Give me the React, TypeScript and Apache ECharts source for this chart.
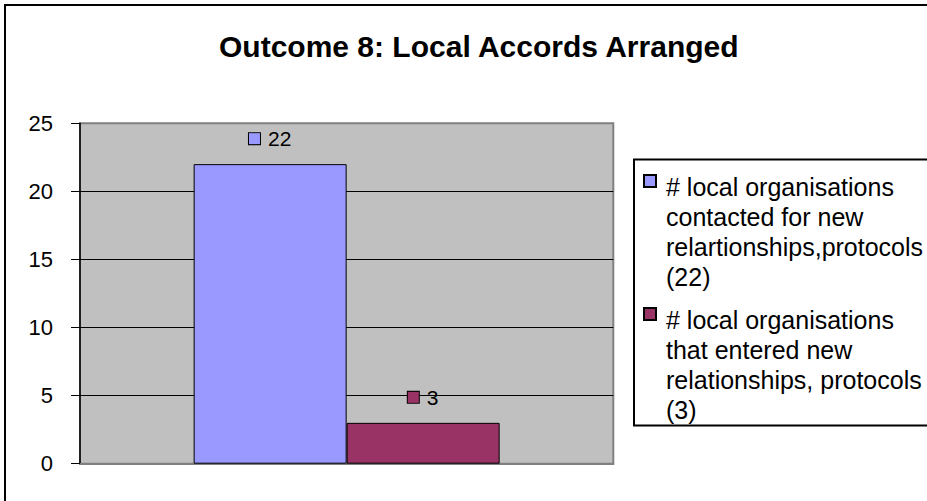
import React, { useEffect, useRef } from "react";
import * as echarts from "echarts";

const titleText = "Outcome 8: Local Accords Arranged";
const categories = [""];
const seriesNames = [
  "# local organisations contacted for new relartionships,protocols (22)",
  "# local organisations that entered new relationships, protocols (3)",
];
const legendLines = [
  ["# local organisations", "contacted for new", "relartionships,protocols", "(22)"],
  ["# local organisations", "that entered new", "relationships, protocols", "(3)"],
];
const contactedValues = [22];
const enteredValues = [3];
const seriesColors = ["#9999FF", "#993366"];
const yTicks = { min: 0, max: 25, interval: 5 };

const FONT = "'Liberation Sans', Arial, sans-serif";

export default function App() {
  const ref = useRef<HTMLDivElement>(null);
  useEffect(() => {
    if (!ref.current) return;
    const chart = echarts.init(ref.current, null, { renderer: "svg" });
    const valuesList = [contactedValues, enteredValues];
    const series = seriesNames.map((name, i) => ({
      name,
      type: "bar",
      data: valuesList[i],
      barWidth: 153,
      barGap: "0%",
      itemStyle: { color: seriesColors[i], borderColor: "#000", borderWidth: 1 },
      label: {
        show: true,
        position: "top",
        distance: 15,
        formatter: (p: any) => `{box|}{v|${p.value}}`,
        rich: {
          box: {
            width: 11,
            height: 11,
            backgroundColor: seriesColors[i],
            borderColor: "#000",
            borderWidth: 1,
          },
          v: { fontSize: 21, fontFamily: FONT, color: "#000", padding: [0, 0, 0, 8] },
        },
      },
    }));
    const legendMap: Record<string, string> = {};
    seriesNames.forEach((n, i) => (legendMap[n] = legendLines[i].join("\n")));
    chart.setOption({
      animation: false,
      backgroundColor: "#fff",
      title: {
        text: titleText,
        left: 219,
        top: 31,
        padding: 0,
        textStyle: { fontFamily: FONT, fontWeight: "bold", fontSize: 30, color: "#000" },
      },
      legend: {
        orient: "vertical",
        left: 643,
        top: 171,
        padding: 0,
        itemGap: 11,
        itemWidth: 17,
        itemHeight: 120,
        selectedMode: false,
        icon: "path://M0,0L0,0M17,0L17,0M0,3L12,3L12,15L0,15ZM0,120L0,120",
        formatter: (name: string) => legendMap[name] || name,
        textStyle: { fontFamily: FONT, fontSize: 25, lineHeight: 30, color: "#000" },
        data: seriesNames,
      },
      grid: {
        left: 80,
        top: 123.3,
        right: 313.7,
        bottom: 37.3,
        show: true,
        backgroundColor: "#C0C0C0",
        borderColor: "#808080",
        borderWidth: 2,
      },
      xAxis: {
        type: "category",
        data: categories,
        axisLine: { show: true, lineStyle: { color: "#808080", width: 2 } },
        axisTick: { show: false },
        axisLabel: { show: false },
      },
      yAxis: {
        type: "value",
        min: yTicks.min,
        max: yTicks.max,
        interval: yTicks.interval,
        axisLine: { show: true, lineStyle: { color: "#000", width: 1.5 } },
        axisTick: { show: true, inside: false, length: 9, lineStyle: { color: "#000" } },
        axisLabel: { fontFamily: FONT, fontSize: 22, color: "#000", margin: 27 },
        splitLine: {
          show: true,
          lineStyle: {
            color: ["#808080", "#000", "#000", "#000", "#000", "#808080"],
            width: 1,
          },
        },
      },
      graphic: [
        {
          type: "rect",
          shape: { x: 5, y: 5, width: 1100, height: 1000 },
          style: { fill: "none", stroke: "#000", lineWidth: 2 },
          silent: true,
        },
        {
          type: "rect",
          shape: { x: 634, y: 159.5, width: 400, height: 266 },
          style: { fill: "none", stroke: "#000", lineWidth: 2 },
          silent: true,
        },
      ],
      series,
    });
    return () => chart.dispose();
  }, []);
  return (
    <div
      ref={ref}
      style={{ position: "fixed", left: 0, top: 0, width: 927, height: 501 }}
    />
  );
}
